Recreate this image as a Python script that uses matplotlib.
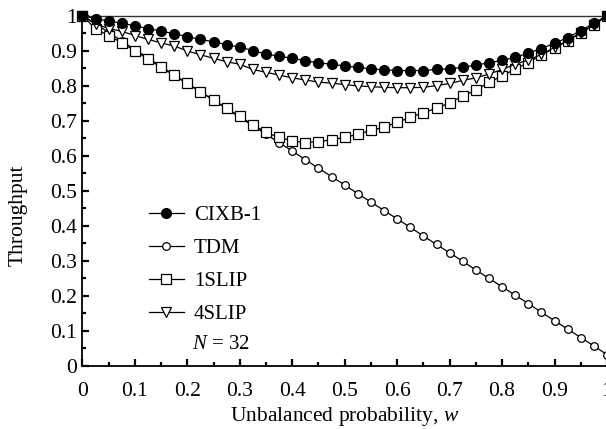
import matplotlib
matplotlib.use("Agg")
import matplotlib.pyplot as plt
from matplotlib.ticker import MultipleLocator

plt.rcParams['font.family'] = ['Liberation Serif', 'DejaVu Serif']
plt.rcParams['mathtext.fontset'] = 'custom'
plt.rcParams['mathtext.it'] = 'Liberation Serif:italic'
plt.rcParams['mathtext.rm'] = 'Liberation Serif'

# Unbalanced probability w, sampled every 0.025
w = [i / 40 for i in range(41)]

cixb1 = [1.000, 0.991, 0.985, 0.978, 0.971, 0.963, 0.956, 0.948, 0.940, 0.932,
         0.925, 0.917, 0.910, 0.900, 0.890, 0.884, 0.878, 0.871, 0.865, 0.861,
         0.856, 0.852, 0.848, 0.845, 0.843, 0.843, 0.843, 0.846, 0.848, 0.852,
         0.859, 0.865, 0.872, 0.881, 0.893, 0.906, 0.921, 0.937, 0.957, 0.978,
         1.000]

tdm = [1.000, 0.976, 0.952, 0.927, 0.903, 0.879, 0.855, 0.830, 0.806, 0.782,
       0.758, 0.734, 0.709, 0.685, 0.661, 0.637, 0.613, 0.588, 0.564, 0.540,
       0.516, 0.491, 0.467, 0.443, 0.419, 0.395, 0.370, 0.346, 0.322, 0.298,
       0.273, 0.249, 0.225, 0.201, 0.177, 0.152, 0.128, 0.104, 0.080, 0.056,
       0.031]

slip1 = [1.000, 0.962, 0.943, 0.922, 0.899, 0.876, 0.852, 0.829, 0.806, 0.782,
         0.759, 0.735, 0.712, 0.688, 0.666, 0.652, 0.642, 0.637, 0.640, 0.645,
         0.652, 0.661, 0.672, 0.681, 0.695, 0.709, 0.723, 0.735, 0.751, 0.770,
         0.787, 0.809, 0.828, 0.847, 0.866, 0.887, 0.908, 0.928, 0.951, 0.973,
         1.000]

slip4 = [1.000, 0.976, 0.963, 0.955, 0.943, 0.932, 0.922, 0.913, 0.899, 0.888,
         0.878, 0.868, 0.861, 0.846, 0.838, 0.830, 0.822, 0.816, 0.810, 0.807,
         0.803, 0.799, 0.797, 0.795, 0.794, 0.794, 0.795, 0.800, 0.806, 0.815,
         0.822, 0.833, 0.846, 0.861, 0.873, 0.889, 0.909, 0.928, 0.951, 0.973,
         1.000]

tick_vals = [0, 0.1, 0.2, 0.3, 0.4, 0.5, 0.6, 0.7, 0.8, 0.9, 1]
tick_labels = ['0', '0.1', '0.2', '0.3', '0.4', '0.5', '0.6', '0.7', '0.8', '0.9', '1']

fig = plt.figure(figsize=(6.06, 4.29), dpi=100)
ax = fig.add_axes([0.1361, 0.148, 0.8655, 0.8156])

lw = 0.9
ax.plot(w, cixb1, color='black', lw=lw, marker='o', ms=7, mfc='black',
        mec='black', label='CIXB-1', clip_on=False, zorder=5)
ax.plot(w, tdm, color='black', lw=lw, marker='o', ms=5.5, mfc='white',
        mec='black', mew=0.9, label='TDM', clip_on=False, zorder=3)
ax.plot(w, slip1, color='black', lw=lw, marker='s', ms=6.5, mfc='white',
        mec='black', mew=0.9, label='1SLIP', clip_on=False, zorder=4)
ax.plot(w, slip4, color='black', lw=lw, marker='v', ms=7.5, mfc='white',
        mec='black', mew=0.9, label='4SLIP', clip_on=False, zorder=4)

ax.set_xlim(0, 1)
ax.set_ylim(0, 1)
ax.set_xticks(tick_vals)
ax.set_xticklabels(tick_labels)
ax.set_yticks(tick_vals)
ax.set_yticklabels(tick_labels)
ax.xaxis.set_minor_locator(MultipleLocator(0.05))
ax.yaxis.set_minor_locator(MultipleLocator(0.05))
ax.tick_params(which='major', direction='in', length=5, width=1.6,
               labelsize=15.5)
ax.tick_params(which='minor', direction='in', length=3, width=1.6)
ax.tick_params(axis='x', pad=12)
ax.tick_params(axis='y', pad=4)

for side in ('left', 'bottom'):
    ax.spines[side].set_linewidth(1.3)
ax.spines['top'].set_linewidth(1.0)
ax.spines['top'].set_color('#333333')
ax.spines['right'].set_linewidth(1.0)

ax.set_xlabel('Unbalanced probability, $\\it{w}$', fontsize=15.5, labelpad=3)
ax.set_ylabel('Throughput', fontsize=15.5)
ax.yaxis.set_label_coords(-0.104, 0.43)

leg = ax.legend(loc='upper left', bbox_to_anchor=(0.110, 0.48), frameon=False,
                fontsize=15, handlelength=1.7, handletextpad=0.48,
                labelspacing=0.64, borderaxespad=0)
ax.text(0.209, 0.059, '$\\it{N}$ = 32', transform=ax.transAxes, fontsize=15,
        va='center', ha='left')

fig.savefig('out.png', dpi=100)
